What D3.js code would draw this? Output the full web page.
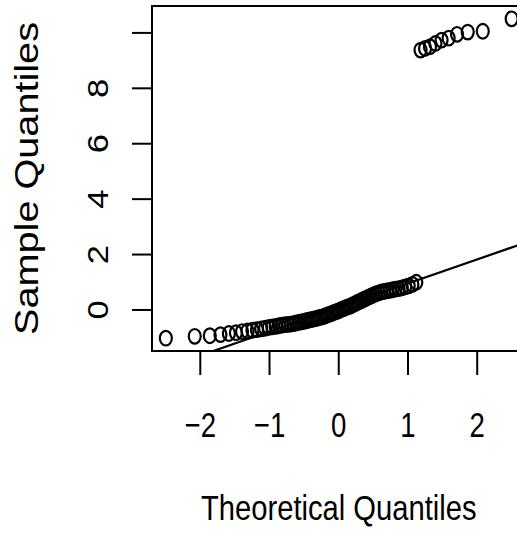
<!DOCTYPE html>
<html>
<head>
<meta charset="utf-8">
<script src="https://cdn.jsdelivr.net/npm/d3@7"></script>
<style>
  body { margin: 0; background: #fff; }
  svg { display: block; }
  text { font-family: "Liberation Sans", Arial, sans-serif; fill: #000; }
</style>
</head>
<body>
<div id="chart-container"></div>
<script>
// sorted sample values
let lowerSample = [
    -1.02, -0.95, -0.93, -0.89, -0.85, -0.82, -0.78, -0.76, -0.73, -0.71,
    -0.68, -0.66, -0.63, -0.61, -0.59, -0.57, -0.55, -0.53, -0.52, -0.51,
    -0.49, -0.47, -0.45, -0.43, -0.41, -0.39, -0.37, -0.35, -0.33, -0.31,
    -0.29, -0.27, -0.25, -0.22, -0.19, -0.16, -0.13, -0.10, -0.07, -0.04,
    -0.01, 0.03, 0.06, 0.09, 0.12, 0.15, 0.19, 0.23, 0.27, 0.31,
    0.35, 0.39, 0.43, 0.47, 0.51, 0.55, 0.59, 0.62, 0.65, 0.67,
    0.69, 0.71, 0.73, 0.75, 0.77, 0.80, 0.83, 0.87, 0.92, 1.00
];
let upperSample = [9.38, 9.44, 9.50, 9.62, 9.74, 9.81, 9.95, 10.03, 10.06, 10.51];

let xTicks = [-2, -1, 0, 1, 2];
let yTicks = [0, 2, 4, 6, 8, 10];
let yTickLabels = ["0", "2", "4", "6", "8", ""];

const WIDTH = 517, HEIGHT = 537;
const margin = {left: 152, top: 6, right: -8.5, bottom: 186};

// inverse normal cdf (Acklam)
function qnorm(p) {
    let a = [-39.69683028665376, 220.9460984245205, -275.9285104469687, 138.3577518672690, -30.66479806614716, 2.506628277459239];
    let b = [-54.47609879822406, 161.5858368580409, -155.6989798598866, 66.80131188771972, -13.28068155288572];
    let c = [-0.007784894002430293, -0.3223964580411365, -2.400758277161838, -2.549732539343734, 4.374664141464968, 2.938163982698783];
    let d = [0.007784695709041462, 0.3224671290700398, 2.445134137142996, 3.754408661907416];
    let plow = 0.02425, q, r;
    if (p < plow) {
        q = Math.sqrt(-2 * Math.log(p));
        return (((((c[0]*q+c[1])*q+c[2])*q+c[3])*q+c[4])*q+c[5]) / ((((d[0]*q+d[1])*q+d[2])*q+d[3])*q+1);
    }
    if (p > 1 - plow) {
        q = Math.sqrt(-2 * Math.log(1 - p));
        return -(((((c[0]*q+c[1])*q+c[2])*q+c[3])*q+c[4])*q+c[5]) / ((((d[0]*q+d[1])*q+d[2])*q+d[3])*q+1);
    }
    q = p - 0.5;
    r = q * q;
    return (((((a[0]*r+a[1])*r+a[2])*r+a[3])*r+a[4])*r+a[5])*q / (((((b[0]*r+b[1])*r+b[2])*r+b[3])*r+b[4])*r+1);
}

let sample = lowerSample.concat(upperSample);
let n = sample.length;
// qqnorm: ppoints(n) -> theoretical quantiles
let points = sample.map((y, i) => {
    return {x: qnorm((i + 1 - 0.5) / n), y: y};
});

// qqline through the quartiles
let q1 = d3.quantile(sample, 0.25), q3 = d3.quantile(sample, 0.75);
let slope = (q3 - q1) / (qnorm(0.75) - qnorm(0.25));
let intercept = q1 - slope * qnorm(0.25);

// R style 4% axis extension
function padded(ext) {
    let pad = (ext[1] - ext[0]) * 0.04;
    return [ext[0] - pad, ext[1] + pad];
}

let xScale = d3.scaleLinear()
    .domain(padded(d3.extent(points, d => d.x)))
    .range([margin.left, WIDTH - margin.right]);
let yScale = d3.scaleLinear()
    .domain(padded(d3.extent(points, d => d.y)))
    .range([HEIGHT - margin.bottom, margin.top]);

let svg = d3.select("#chart-container").append("svg")
    .attr("width", WIDTH).attr("height", HEIGHT);

let x0 = xScale.range()[0], x1 = xScale.range()[1];
let y0 = yScale.range()[0], y1 = yScale.range()[1];

svg.append("clipPath").attr("id", "plot-clip")
    .append("rect")
    .attr("x", x0).attr("y", y1)
    .attr("width", x1 - x0).attr("height", y0 - y1);

// points
svg.append("g").selectAll("ellipse").data(points).enter().append("ellipse")
    .attr("cx", d => xScale(d.x))
    .attr("cy", d => yScale(d.y))
    .attr("rx", 6).attr("ry", 7.3)
    .attr("fill", "none")
    .attr("stroke", "#000")
    .attr("stroke-width", 2.2);

// reference line
let xd = xScale.domain();
svg.append("line")
    .attr("clip-path", "url(#plot-clip)")
    .attr("x1", xScale(xd[0])).attr("y1", yScale(intercept + slope * xd[0]))
    .attr("x2", xScale(xd[1])).attr("y2", yScale(intercept + slope * xd[1]))
    .attr("stroke", "#000").attr("stroke-width", 2.2);

// box
svg.append("rect")
    .attr("x", x0).attr("y", y1)
    .attr("width", x1 - x0).attr("height", y0 - y1)
    .attr("fill", "none").attr("stroke", "#000").attr("stroke-width", 2);

// x axis
let xAxis = svg.append("g");
xAxis.selectAll("line").data(xTicks).enter().append("line")
    .attr("x1", d => xScale(d)).attr("x2", d => xScale(d))
    .attr("y1", y0).attr("y2", y0 + 24)
    .attr("stroke", "#000").attr("stroke-width", 2);
xAxis.selectAll("text").data(xTicks).enter().append("text")
    .attr("transform", d => `translate(${xScale(d)},437) scale(0.92,1.18)`)
    .attr("text-anchor", "middle")
    .style("font-size", "30px")
    .text(d => d < 0 ? "\u2212" + Math.abs(d) : d);

// y axis
let yAxis = svg.append("g");
yAxis.selectAll("line").data(yTicks).enter().append("line")
    .attr("x1", x0 - 20).attr("x2", x0)
    .attr("y1", d => yScale(d)).attr("y2", d => yScale(d))
    .attr("stroke", "#000").attr("stroke-width", 2);
yAxis.selectAll("text").data(yTicks).enter().append("text")
    .attr("transform", d => `translate(108,${yScale(d)}) rotate(-90) scale(1.15,1)`)
    .attr("text-anchor", "middle")
    .style("font-size", "30px")
    .text((d, i) => yTickLabels[i]);

// titles
svg.append("text")
    .attr("transform", `translate(${(xScale(-2) + xScale(2)) / 2},520) scale(0.81,1)`)
    .attr("text-anchor", "middle")
    .style("font-size", "36px")
    .text("Theoretical Quantiles");

svg.append("text")
    .attr("transform", `translate(38,${(y0 + y1) / 2}) rotate(-90) scale(1.22,1)`)
    .attr("text-anchor", "middle")
    .style("font-size", "32.5px")
    .text("Sample Quantiles");
</script>
</body>
</html>
